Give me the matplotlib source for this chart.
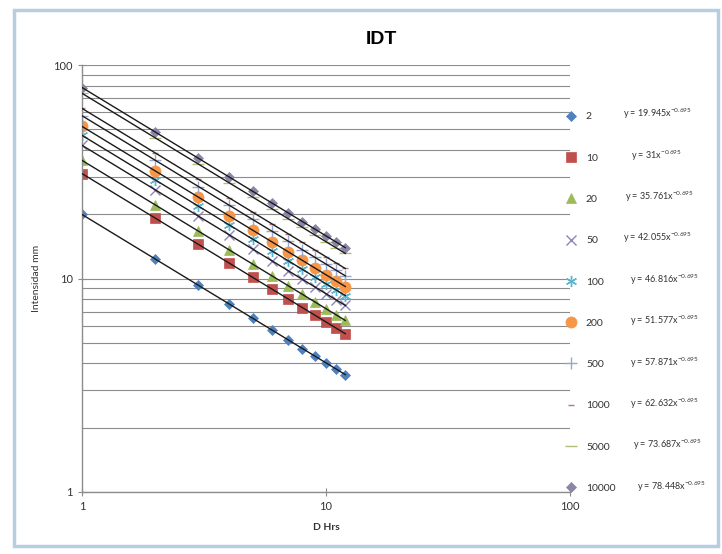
import numpy as np
import matplotlib
matplotlib.use("Agg")
import matplotlib.pyplot as plt
from matplotlib.patches import Rectangle

plt.rcParams['font.family'] = ['Lato', 'DejaVu Sans']
plt.rcParams['mathtext.fontset'] = 'custom'
plt.rcParams['mathtext.rm'] = 'Lato'
plt.rcParams['mathtext.it'] = 'Lato'

# duration (hours)
d_hrs = [1, 2, 3, 4, 5, 6, 7, 8, 9, 10, 11, 12]

# return periods
periods = ['2', '10', '20', '50', '100', '200', '500', '1000', '5000', '10000']

# intensities (mm) per return period
i_2 = [19.95, 12.32, 9.29, 7.61, 6.52, 5.74, 5.16, 4.70, 4.33, 4.02, 3.77, 3.55]
i_10 = [31.0, 19.15, 14.45, 11.83, 10.13, 8.92, 8.02, 7.31, 6.73, 6.26, 5.86, 5.51]
i_20 = [35.76, 22.09, 16.66, 13.65, 11.68, 10.29, 9.25, 8.43, 7.77, 7.22, 6.76, 6.36]
i_50 = [42.06, 25.98, 19.60, 16.05, 13.74, 12.10, 10.88, 9.91, 9.13, 8.49, 7.94, 7.48]
i_100 = [46.82, 28.92, 21.82, 17.87, 15.29, 13.47, 12.11, 11.03, 10.17, 9.45, 8.84, 8.32]
i_200 = [51.58, 31.86, 24.03, 19.68, 16.85, 14.84, 13.34, 12.16, 11.20, 10.41, 9.74, 9.17]
i_500 = [57.87, 35.75, 26.97, 22.08, 18.91, 16.66, 14.97, 13.64, 12.57, 11.68, 10.93, 10.29]
i_1000 = [62.63, 38.69, 29.19, 23.90, 20.46, 18.03, 16.20, 14.76, 13.60, 12.64, 11.83, 11.14]
i_5000 = [73.69, 45.52, 34.34, 28.12, 24.07, 21.21, 19.06, 17.37, 16.00, 14.87, 13.92, 13.10]
i_10000 = [78.45, 48.46, 36.56, 29.94, 25.63, 22.58, 20.29, 18.49, 17.04, 15.83, 14.82, 13.95]

series = [i_2, i_10, i_20, i_50, i_100, i_200, i_500, i_1000, i_5000, i_10000]

equations = ['y = 19.945x$^{-0.695}$', 'y = 31x$^{-0.695}$', 'y = 35.761x$^{-0.695}$',
             'y = 42.055x$^{-0.695}$', 'y = 46.816x$^{-0.695}$', 'y = 51.577x$^{-0.695}$',
             'y = 57.871x$^{-0.695}$', 'y = 62.632x$^{-0.695}$', 'y = 73.687x$^{-0.695}$',
             'y = 78.448x$^{-0.695}$']

colors = ['#4F81BD', '#C0504D', '#9BBB59', '#8f86b8', '#5fb4d0', '#F79646',
          '#9aa6cf', '#b07a7a', '#b0bd78', '#8a86a8']
markers = ['D', 's', '^', 'x', (6, 2, 0), 'o', '+', '_', '_', 'D']
msizes = [5, 7, 7, 7, 8, 8, 8, 4, 8, 5]

fig = plt.figure(figsize=(7.22, 5.54), dpi=100)
fig.patches.append(Rectangle((14 / 722, 8 / 554), 704 / 722, 536 / 554, transform=fig.transFigure,
                             fill=False, edgecolor='#b7cde0', linewidth=2.5))
ax = fig.add_axes([82 / 722, 1 - 492 / 554, (570 - 82) / 722, (492 - 65) / 554])

x = np.array(d_hrs, dtype=float)
handles = []
for vals, lab, c, m, ms in zip(series, periods, colors, markers, msizes):
    y = np.array(vals)
    # power trendline (fit in log space)
    b, loga = np.polyfit(np.log(x), np.log(y), 1)
    ax.plot(x, np.exp(loga) * x ** b, color='#1a1a1a', lw=1.0, zorder=3)
    thin = m in ['x', '+', '_'] or isinstance(m, tuple)
    h, = ax.plot(x, y, linestyle='none', marker=m, color=c, markersize=ms,
                 markeredgewidth=1.0 if thin else 0.5,
                 markeredgecolor=c, label=lab, zorder=2)
    handles.append(h)

ax.set_xscale('log')
ax.set_yscale('log')
ax.set_xlim(1, 100)
ax.set_ylim(1, 100)
ax.yaxis.grid(True, which='both', color='#8c8c8c', lw=0.8)
ax.xaxis.grid(False)
ax.set_axisbelow(True)
for s in ['top', 'right']:
    ax.spines[s].set_visible(False)
for s in ['left', 'bottom']:
    ax.spines[s].set_color('#8c8c8c')
    ax.spines[s].set_linewidth(1.0)
ax.set_xticks([1, 10, 100])
ax.set_xticklabels(['1', '10', '100'])
ax.set_yticks([1, 10, 100])
ax.set_yticklabels(['1', '10', '100'])
ax.xaxis.set_minor_formatter(matplotlib.ticker.NullFormatter())
ax.yaxis.set_minor_formatter(matplotlib.ticker.NullFormatter())
ax.tick_params(which='minor', length=0)
ax.tick_params(which='major', direction='inout', length=6, color='#8c8c8c',
               labelsize=8, labelcolor='#333333')

ax.set_xlabel('D Hrs', fontsize=7.5, fontweight='bold', color='#333333', labelpad=8)
ax.set_ylabel('Intensidad mm', fontsize=7.5, color='#333333', labelpad=9)
fig.text(381 / 722, 1 - 40 / 554, 'IDT', ha='center', va='center', fontsize=14,
         fontweight='bold', family=['Liberation Sans', 'DejaVu Sans'])

leg = fig.legend(handles=handles, loc='upper left', bbox_to_anchor=(562 / 722, 1 - 108 / 554),
                 frameon=False, fontsize=7.5, labelspacing=3.07, handlelength=1.0,
                 handletextpad=0.9, borderaxespad=0)
for t in leg.get_texts():
    t.set_color('#333333')

eq_x = [623, 631, 625, 623, 630, 630, 630, 630, 633, 637]
for i, (eq, ex) in enumerate(zip(equations, eq_x)):
    fig.text(ex / 722, 1 - (114 + i * 41.4) / 554, eq, fontsize=6.5, color='#333333',
             va='center', ha='left')

fig.savefig('out.png', dpi=100)
